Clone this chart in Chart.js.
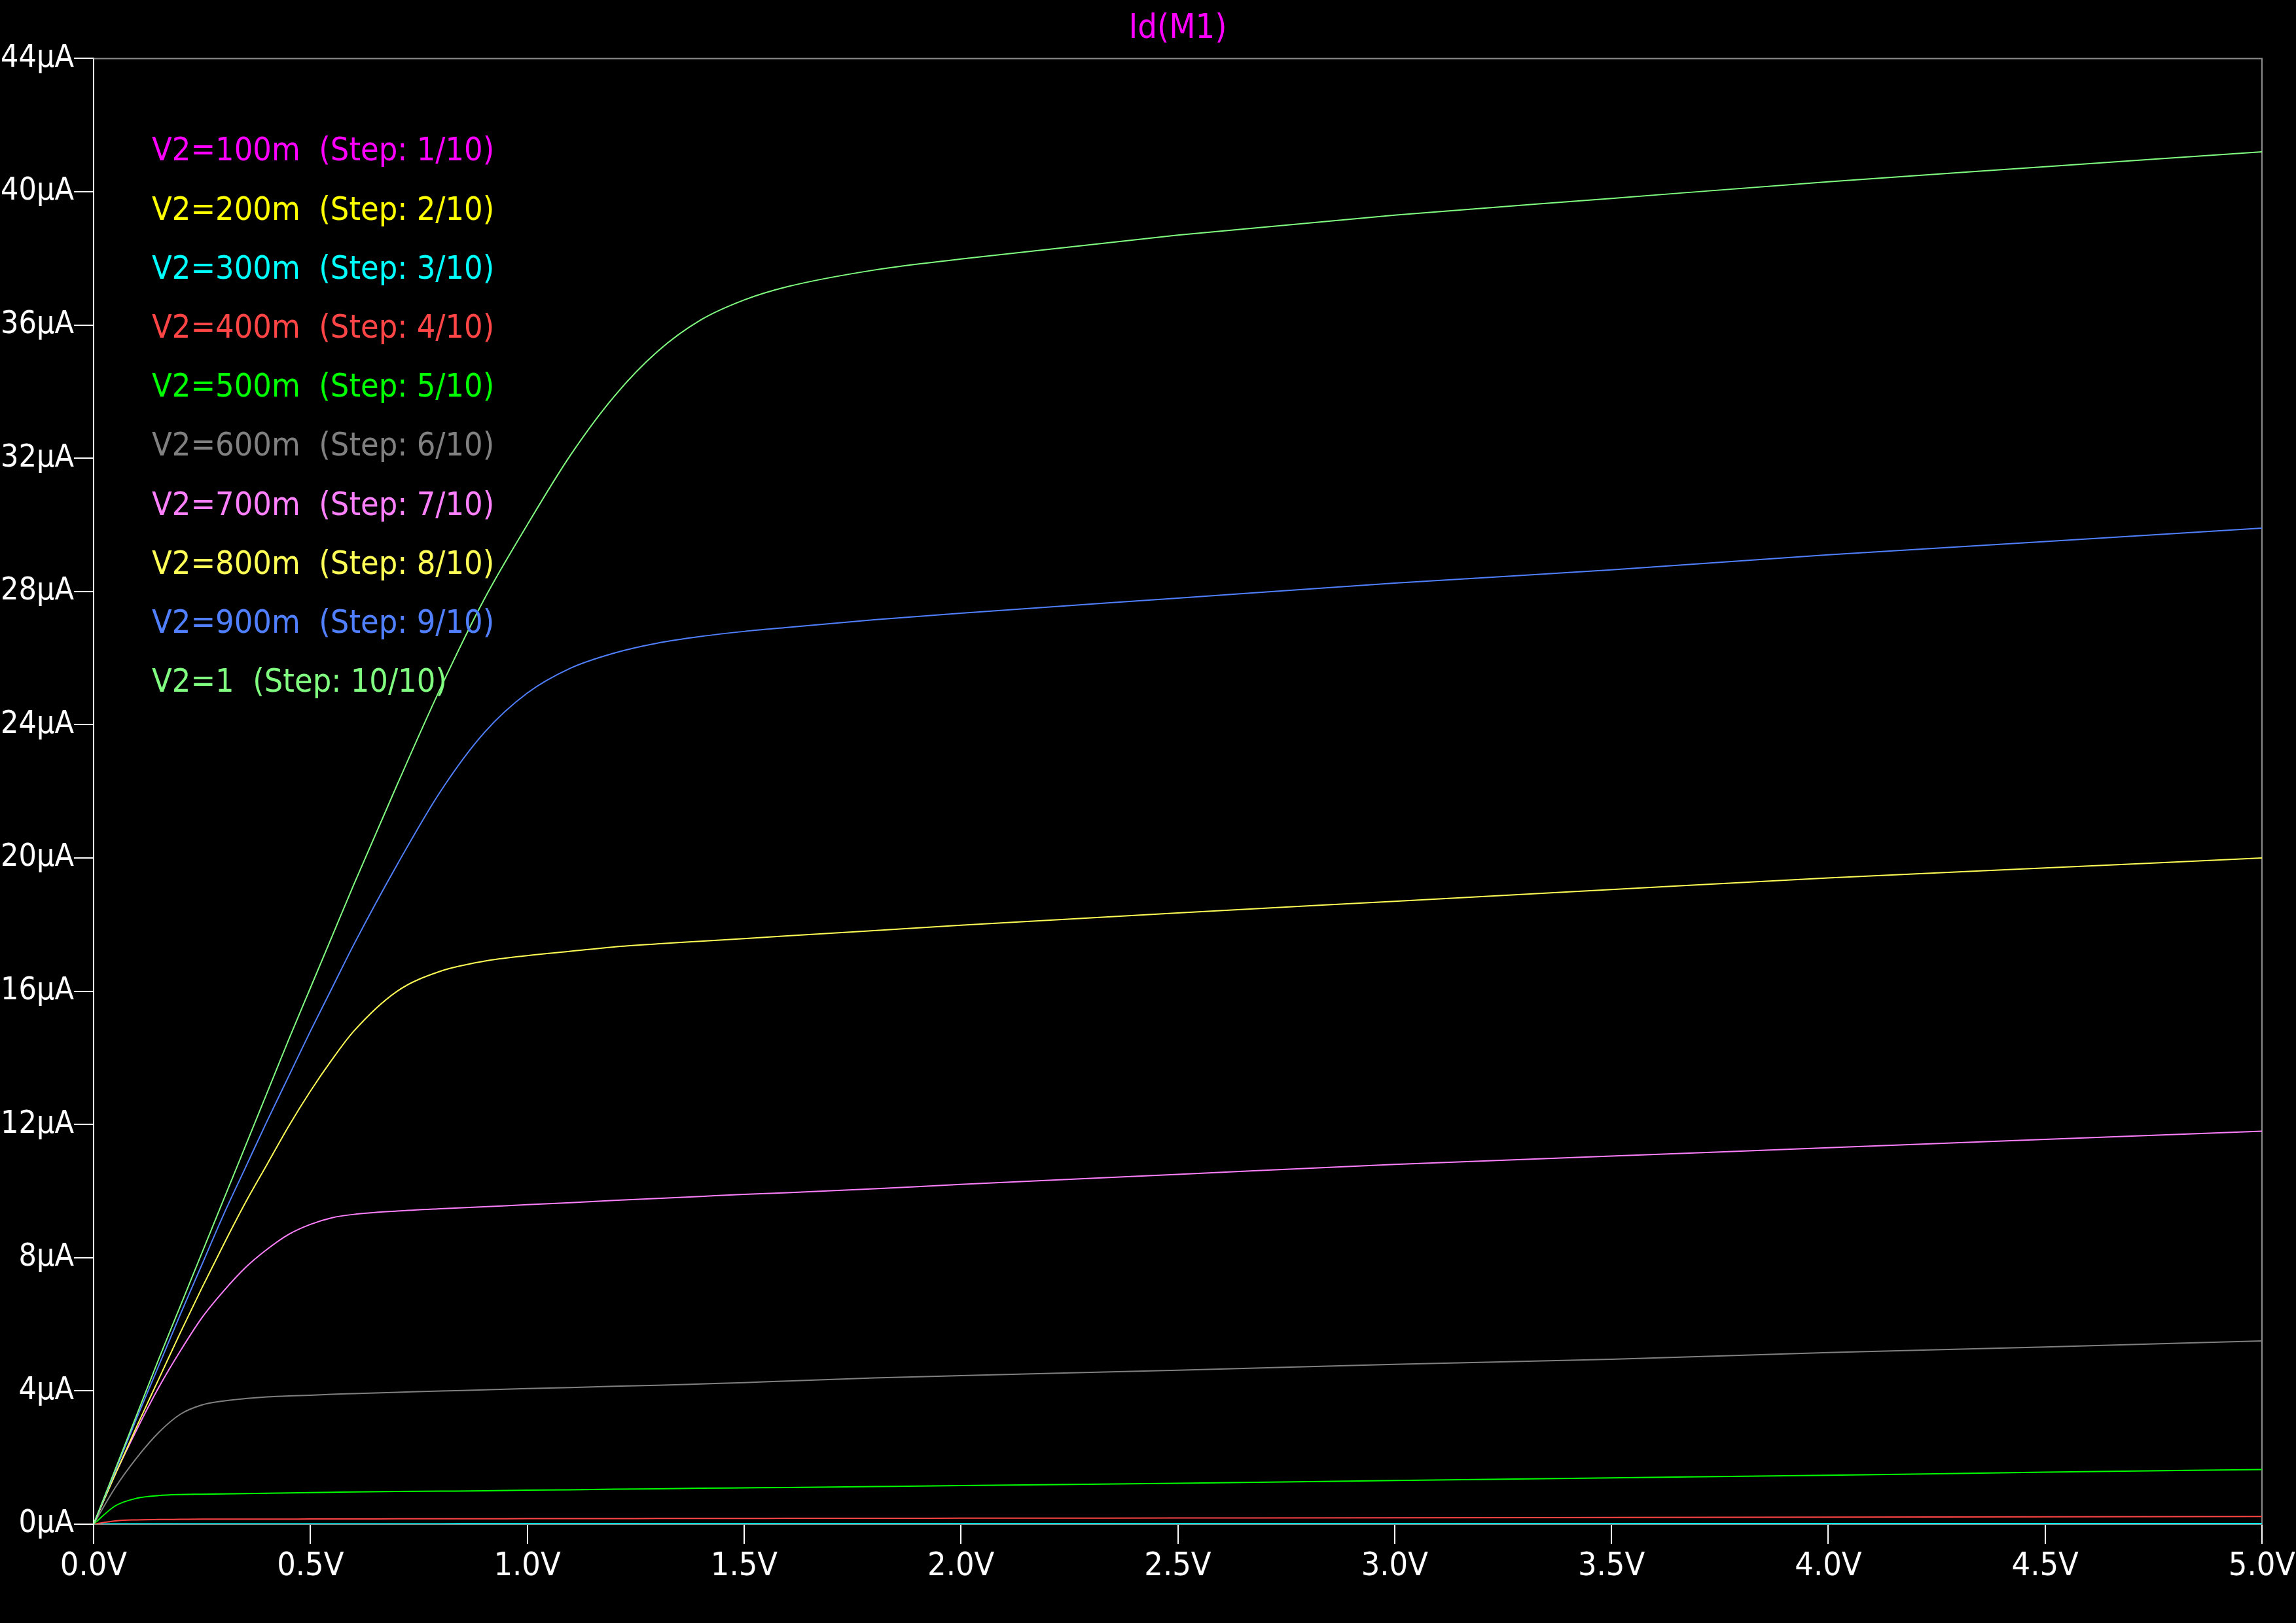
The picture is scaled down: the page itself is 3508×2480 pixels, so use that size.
<!DOCTYPE html>
<html>
<head>
<meta charset="utf-8">
<title>Id(M1)</title>
<script src="https://cdn.jsdelivr.net/npm/chart.js@4.4.1/dist/chart.umd.min.js"></script>
<style>
  html, body { margin: 0; padding: 0; background: #000; }
  #wrap { width: 3508px; height: 2480px; }
</style>
</head>
<body>
<div id="wrap"><canvas id="chartId" width="3508" height="2480"></canvas></div>
<script>
// Vds sweep points (V)
const vds = [0, 0.05, 0.1, 0.15, 0.2, 0.25, 0.3, 0.35, 0.4, 0.45, 0.5, 0.55, 0.6, 0.7, 0.8, 0.9, 1.0, 1.1, 1.2, 1.3, 1.4, 1.5, 1.6, 1.8, 2.0, 2.5, 3.0, 3.5, 4.0, 4.5, 5.0];

// Id in uA, one array per V2 step
const idStep1  = [0, 0.0001, 0.0001, 0.0001, 0.0001, 0.0001, 0.0001, 0.0001, 0.0001, 0.0001, 0.0001, 0.0001, 0.0001, 0.0001, 0.0001, 0.0001, 0.0001, 0.0001, 0.0001, 0.0001, 0.0001, 0.0001, 0.0001, 0.0001, 0.0001, 0.0001, 0.0001, 0.0001, 0.0001, 0.0001, 0.0001];
const idStep2  = [0, 0.001, 0.001, 0.001, 0.001, 0.001, 0.001, 0.001, 0.001, 0.001, 0.001, 0.001, 0.001, 0.001, 0.001, 0.001, 0.001, 0.001, 0.001, 0.001, 0.001, 0.001, 0.001, 0.001, 0.001, 0.001, 0.001, 0.001, 0.001, 0.001, 0.001];
const idStep3  = [0, 0.008, 0.01, 0.011, 0.011, 0.011, 0.011, 0.011, 0.012, 0.012, 0.012, 0.012, 0.012, 0.012, 0.012, 0.013, 0.013, 0.013, 0.013, 0.013, 0.014, 0.014, 0.014, 0.014, 0.015, 0.015, 0.016, 0.017, 0.018, 0.019, 0.02];
const idStep4  = [0, 0.1, 0.13, 0.14, 0.145, 0.15, 0.15, 0.15, 0.15, 0.152, 0.155, 0.155, 0.155, 0.16, 0.16, 0.16, 0.165, 0.165, 0.165, 0.17, 0.17, 0.17, 0.175, 0.175, 0.18, 0.185, 0.19, 0.2, 0.21, 0.22, 0.23];
const idStep5  = [0, 0.55, 0.78, 0.86, 0.89, 0.9, 0.91, 0.92, 0.93, 0.94, 0.95, 0.96, 0.97, 0.98, 0.99, 1.0, 1.02, 1.03, 1.05, 1.06, 1.08, 1.09, 1.1, 1.13, 1.16, 1.23, 1.31, 1.39, 1.47, 1.56, 1.64];
const idStep6  = [0, 1.1, 2.0, 2.75, 3.3, 3.58, 3.7, 3.77, 3.82, 3.85, 3.87, 3.9, 3.92, 3.96, 4.0, 4.03, 4.07, 4.1, 4.14, 4.17, 4.21, 4.25, 4.3, 4.39, 4.46, 4.62, 4.8, 4.95, 5.15, 5.32, 5.5];
const idStep7  = [0, 1.5, 2.85, 4.1, 5.2, 6.2, 7.0, 7.7, 8.25, 8.7, 9.0, 9.2, 9.3, 9.4, 9.47, 9.53, 9.59, 9.65, 9.72, 9.78, 9.84, 9.9, 9.95, 10.07, 10.2, 10.5, 10.8, 11.05, 11.3, 11.55, 11.8];
const idStep8  = [0, 1.5, 2.95, 4.35, 5.75, 7.1, 8.4, 9.65, 10.8, 11.95, 13.0, 13.95, 14.8, 16.0, 16.6, 16.9, 17.07, 17.2, 17.33, 17.42, 17.5, 17.58, 17.66, 17.82, 17.98, 18.35, 18.7, 19.05, 19.4, 19.7, 20.0];
const idStep9  = [0, 1.6, 3.2, 4.75, 6.3, 7.8, 9.3, 10.7, 12.1, 13.45, 14.8, 16.1, 17.4, 19.8, 22.0, 23.75, 24.95, 25.7, 26.15, 26.45, 26.65, 26.8, 26.92, 27.15, 27.35, 27.8, 28.25, 28.65, 29.1, 29.5, 29.9];
const idStep10 = [0, 1.65, 3.3, 4.95, 6.55, 8.15, 9.75, 11.35, 12.95, 14.55, 16.1, 17.65, 19.2, 22.2, 25.1, 27.75, 30.0, 32.1, 33.85, 35.2, 36.15, 36.75, 37.15, 37.65, 37.98, 38.7, 39.3, 39.8, 40.3, 40.75, 41.2];

const stepLabels = [
    'V2=100m  (Step: 1/10)',
    'V2=200m  (Step: 2/10)',
    'V2=300m  (Step: 3/10)',
    'V2=400m  (Step: 4/10)',
    'V2=500m  (Step: 5/10)',
    'V2=600m  (Step: 6/10)',
    'V2=700m  (Step: 7/10)',
    'V2=800m  (Step: 8/10)',
    'V2=900m  (Step: 9/10)',
    'V2=1  (Step: 10/10)'
];
const stepColors = ['#ff00ff', '#ffff00', '#00ffff', '#ff4545', '#00ff00', '#808080', '#ff80ff', '#ffff55', '#5080ff', '#80ff80'];
const stepData = [idStep1, idStep2, idStep3, idStep4, idStep5, idStep6, idStep7, idStep8, idStep9, idStep10];

const xTicks = [0, 0.5, 1.0, 1.5, 2.0, 2.5, 3.0, 3.5, 4.0, 4.5, 5.0];
const yTicks = [0, 4, 8, 12, 16, 20, 24, 28, 32, 36, 40, 44];

const FONT = "'DejaVu Sans Condensed', 'DejaVu Sans', sans-serif";
Chart.defaults.font.family = FONT;
Chart.defaults.color = '#ffffff';

// frame (top + right edge) and the step labels inside the plot
const framePlugin = {
    id: 'frame',
    beforeDatasetsDraw(chart) {
        const a = chart.chartArea;
        const ctx = chart.ctx;
        ctx.save();
        ctx.strokeStyle = '#8c8c8c';
        ctx.lineWidth = 2;
        ctx.beginPath();
        ctx.moveTo(a.left, a.top);
        ctx.lineTo(a.right, a.top);
        ctx.lineTo(a.right, a.bottom);
        ctx.stroke();
        ctx.restore();
    },
    afterDatasetsDraw(chart) {
        const a = chart.chartArea;
        const ctx = chart.ctx;
        ctx.save();
        ctx.font = '50px ' + FONT;
        ctx.textBaseline = 'middle';
        ctx.textAlign = 'left';
        chart.data.datasets.forEach((ds, i) => {
            ctx.fillStyle = ds.borderColor;
            ctx.fillText(ds.label, a.left + 89, a.top + 143 + i * 90.2);
        });
        ctx.restore();
    }
};

function buildDatasets() {
    return stepData.map((arr, i) => ({
        label: stepLabels[i],
        data: vds.map((v, k) => ({ x: v, y: arr[k] })),
        borderColor: stepColors[i],
        borderWidth: 2,
        pointRadius: 0,
        fill: false,
        cubicInterpolationMode: 'monotone',
        order: 10 - i
    }));
}

const ctx = document.getElementById('chartId').getContext('2d');
const myChart = new Chart(ctx, {
    type: 'line',
    data: { datasets: buildDatasets() },
    plugins: [framePlugin],
    options: {
        responsive: false,
        animation: false,
        layout: { padding: { right: 52 } },
        plugins: {
            legend: { display: false },
            tooltip: { enabled: false },
            title: {
                display: true,
                text: 'Id(M1)',
                color: '#ff00ff',
                fullSize: false,
                font: { size: 52, weight: 'normal' },
                padding: { top: 13, bottom: 14 }
            }
        },
        scales: {
            x: {
                type: 'linear',
                min: 0,
                max: 5,
                afterBuildTicks: (scale) => { scale.ticks = xTicks.map(v => ({ value: v })); },
                afterFit: (scale) => {
                    scale.height = 151;
                    scale.paddingLeft = 0;
                    scale.paddingRight = 0;
                },
                ticks: {
                    color: '#ffffff',
                    font: { size: 50 },
                    padding: 5,
                    maxRotation: 0,
                    autoSkip: false,
                    callback: (v) => Number(v).toFixed(1) + 'V'
                },
                grid: { drawOnChartArea: false, tickLength: 30, color: '#ffffff', lineWidth: 2 },
                border: { color: '#8c8c8c', width: 2 }
            },
            y: {
                min: 0,
                max: 44,
                afterBuildTicks: (scale) => { scale.ticks = yTicks.map(v => ({ value: v })); },
                afterFit: (scale) => { scale.width = 143; },
                ticks: {
                    color: '#ffffff',
                    font: { size: 48 },
                    padding: 0,
                    autoSkip: false,
                    callback: (v) => v + 'μA'
                },
                grid: { drawOnChartArea: false, tickLength: 30, color: '#ffffff', lineWidth: 2 },
                border: { color: '#ffffff', width: 2 }
            }
        }
    }
});
</script>
</body>
</html>
